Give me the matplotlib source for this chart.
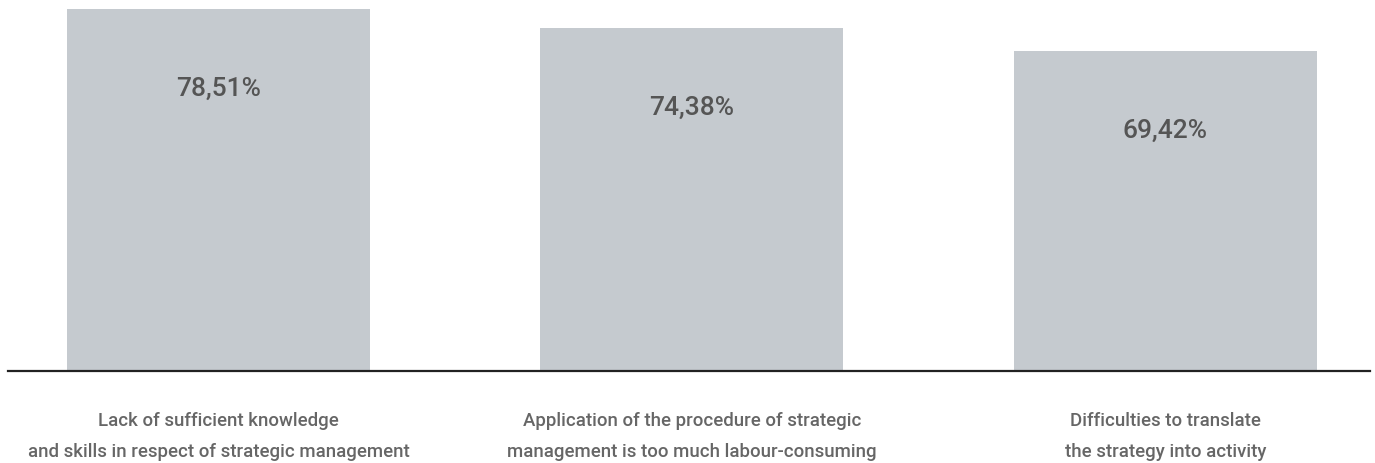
import matplotlib.pyplot as plt

plt.rcParams["font.family"] = ["Roboto", "DejaVu Sans"]

categories = [
    "Lack of sufficient knowledge\nand skills in respect of strategic management",
    "Application of the procedure of strategic\nmanagement is too much labour-consuming",
    "Difficulties to translate\nthe strategy into activity",
]
values = [78.51, 74.38, 69.42]
value_labels = ["78,51%", "74,38%", "69,42%"]

fig = plt.figure(figsize=(13.75, 4.64), dpi=100)
ax = fig.add_axes([8 / 1375, 1 - 372 / 464, 1362 / 1375, 372 / 464])

x = range(len(categories))
ax.bar(x, values, width=0.64, color="#c5cacf", zorder=1)

for xi, v, lab in zip(x, values, value_labels):
    ax.annotate(lab, (xi, v), xytext=(0, -57), textcoords="offset points",
                ha="center", va="center", fontsize=19, fontweight="medium",
                color="#555555")

ax.set_xlim(-0.4446, 2.432)
ax.set_ylim(0, 80.68)
ax.set_xticks(list(x))
ax.set_xticklabels(categories, fontsize=13.4, fontweight="medium",
                   color="#666666", linespacing=1.9)
ax.tick_params(axis="x", length=0, pad=29)
ax.set_yticks([])
for side in ["top", "left", "right"]:
    ax.spines[side].set_visible(False)
ax.spines["bottom"].set_linewidth(1.6)
ax.spines["bottom"].set_color("#222222")
ax.spines["bottom"].set_zorder(3)

fig.savefig("out.png", dpi=100)
